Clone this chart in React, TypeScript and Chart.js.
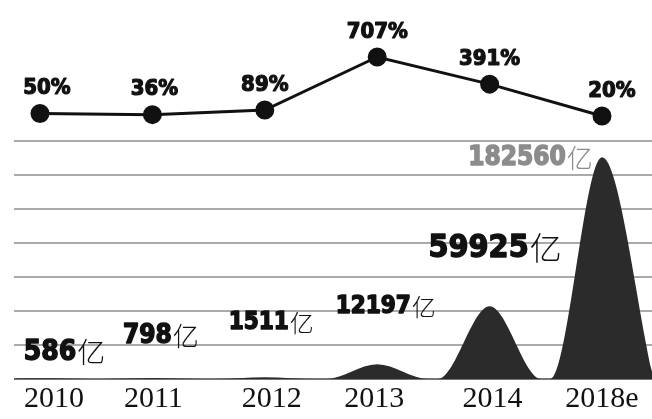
import React, { useEffect, useRef } from "react";
import { Chart, registerables } from "chart.js";

Chart.register(...registerables);

// ---- data ----
const years = ["2010", "2011", "2012", "2013", "2014", "2018e"];
const growthPct = [50, 36, 89, 707, 391, 20];
const scaleValues = [586, 798, 1511, 12197, 59925, 182560]; // 亿
const valueUnit = "亿";

// ---- styling (not data) ----
const pctDx = [7, 2, 0, 0, 0, 10];
const pctDy = -25;
const valDx = [24, 8, 6, 8, 5, -72];
const valDy = [-26, -42, -54, -57, -58, 1];
const valSize = [28, 26, 24, 24, 32, 26];
const valColor = ["#111", "#111", "#111", "#111", "#111", "#8c8c8c"];
const tickShiftPx = [14, 1, 7, -3, 3, 0];
const HILL_HALF = 0.46;
const GRID_STEP = 28000;
const GRID_VISIBLE = 7;
const GRID_TOTAL = 11;
const UNIT_PX = 112.4;

const NUM_FONT = '"DejaVu Sans Condensed", "Liberation Sans Narrow", "DejaVu Sans", sans-serif';
const CJK_FONT = '"Noto Sans CJK SC", sans-serif';

function heavyText(ctx: CanvasRenderingContext2D, t: string, x: number, y: number, color: string, w: number) {
  ctx.fillStyle = color;
  ctx.strokeStyle = color;
  ctx.lineWidth = w;
  ctx.lineJoin = "round";
  ctx.strokeText(t, x, y);
  ctx.fillText(t, x, y);
}

const labelPlugin = {
  id: "labels",
  beforeDatasetDraw(chart: any, args: any) {
    if (args.index === 0) {
      const ctx = chart.ctx;
      ctx.save();
      ctx.shadowColor = "rgba(0,0,0,0.55)";
      ctx.shadowBlur = 7;
    }
  },
  afterDatasetDraw(chart: any, args: any) {
    if (args.index === 0) chart.ctx.restore();
  },
  afterDatasetsDraw(chart: any) {
    const ctx = chart.ctx;
    ctx.save();
    ctx.textBaseline = "middle";
    const lineMeta = chart.getDatasetMeta(1);
    lineMeta.data.forEach((pt: any, i: number) => {
      ctx.font = `bold 22px ${NUM_FONT}`;
      ctx.textAlign = "center";
      heavyText(ctx, `${growthPct[i]}%`, pt.x + pctDx[i], pt.y + pctDy, "#111", 1.2);
    });
    const areaMeta = chart.getDatasetMeta(0);
    scaleValues.forEach((v, i) => {
      const pk = areaMeta.data[i * 3 + 1];
      const size = valSize[i];
      const numText = String(v);
      ctx.font = `bold ${size}px ${NUM_FONT}`;
      const wNum = ctx.measureText(numText).width;
      ctx.font = `300 ${size}px ${CJK_FONT}`;
      const wUnit = ctx.measureText(valueUnit).width;
      const cx = pk.x + valDx[i];
      const cy = pk.y + valDy[i];
      const x0 = cx - (wNum + wUnit) / 2;
      ctx.textAlign = "left";
      ctx.font = `bold ${size}px ${NUM_FONT}`;
      heavyText(ctx, numText, x0, cy, valColor[i], 1.4);
      ctx.font = `300 ${size}px ${CJK_FONT}`;
      ctx.fillStyle = valColor[i];
      ctx.fillText(valueUnit, x0 + wNum + 1, cy);
    });
    ctx.restore();
  },
};

export default function App() {
  const ref = useRef<HTMLCanvasElement | null>(null);
  useEffect(() => {
    if (!ref.current) return;
    const hillPoints = scaleValues.flatMap((v, i) => [
      { x: i - HILL_HALF, y: 0 },
      { x: i, y: v },
      { x: i + HILL_HALF, y: 0 },
    ]);
    const linePoints = growthPct.map((v, i) => ({ x: i, y: v }));
    const chart = new Chart(ref.current, {
      type: "line",
      data: {
        datasets: [
          {
            data: hillPoints,
            yAxisID: "yArea",
            borderWidth: 0,
            borderColor: "#2b2b2b",
            backgroundColor: "#2b2b2b",
            fill: "origin",
            pointRadius: 0,
            cubicInterpolationMode: "monotone",
          },
          {
            data: linePoints,
            yAxisID: "yLine",
            borderColor: "#111",
            borderWidth: 3,
            pointRadius: 8,
            pointBackgroundColor: "#111",
            pointBorderColor: "#111",
            tension: 0,
            clip: false as any,
          },
        ],
      },
      options: {
        animation: false,
        responsive: false,
        maintainAspectRatio: false,
        layout: { autoPadding: false, padding: { left: 14, right: 0, top: 5, bottom: 0 } },
        plugins: { legend: { display: false }, tooltip: { enabled: false }, title: { display: false } },
        scales: {
          x: {
            type: "linear",
            min: -0.2313,
            max: 5.4448,
            grid: { display: false, drawTicks: false },
            border: { display: false },
            afterBuildTicks: (scale: any) => {
              scale.ticks = years.map((_, i) => ({ value: i + tickShiftPx[i] / UNIT_PX }));
            },
            afterFit: (scale: any) => {
              scale.height = 40;
            },
            ticks: {
              autoSkip: false,
              maxRotation: 0,
              padding: 2,
              color: "#111",
              font: { family: '"Liberation Serif", "DejaVu Serif", serif', size: 30 },
              callback: (_v: any, idx: number) => years[idx] ?? "",
            },
          },
          yArea: {
            type: "linear",
            position: "left",
            min: 0,
            max: GRID_STEP * GRID_TOTAL,
            afterFit: (scale: any) => {
              scale.width = 0;
            },
            ticks: { display: false, stepSize: GRID_STEP },
            border: { display: false },
            grid: {
              drawTicks: false,
              lineWidth: 2,
              color: (c: any) =>
                c.tick && c.tick.value > GRID_STEP * GRID_VISIBLE + 1
                  ? "rgba(0,0,0,0)"
                  : c.tick && c.tick.value === 0
                  ? "#777"
                  : "#aaaaaa",
            },
          },
          yLine: {
            type: "linear",
            display: false,
            min: -3042,
            max: 1312.5,
          },
        },
      },
      plugins: [labelPlugin],
    });
    return () => chart.destroy();
  }, []);
  return (
    <div style={{ position: "absolute", left: 0, top: 0, width: 652, height: 419, background: "#fff" }}>
      <canvas ref={ref} width={652} height={419} style={{ width: 652, height: 419 }} />
    </div>
  );
}
